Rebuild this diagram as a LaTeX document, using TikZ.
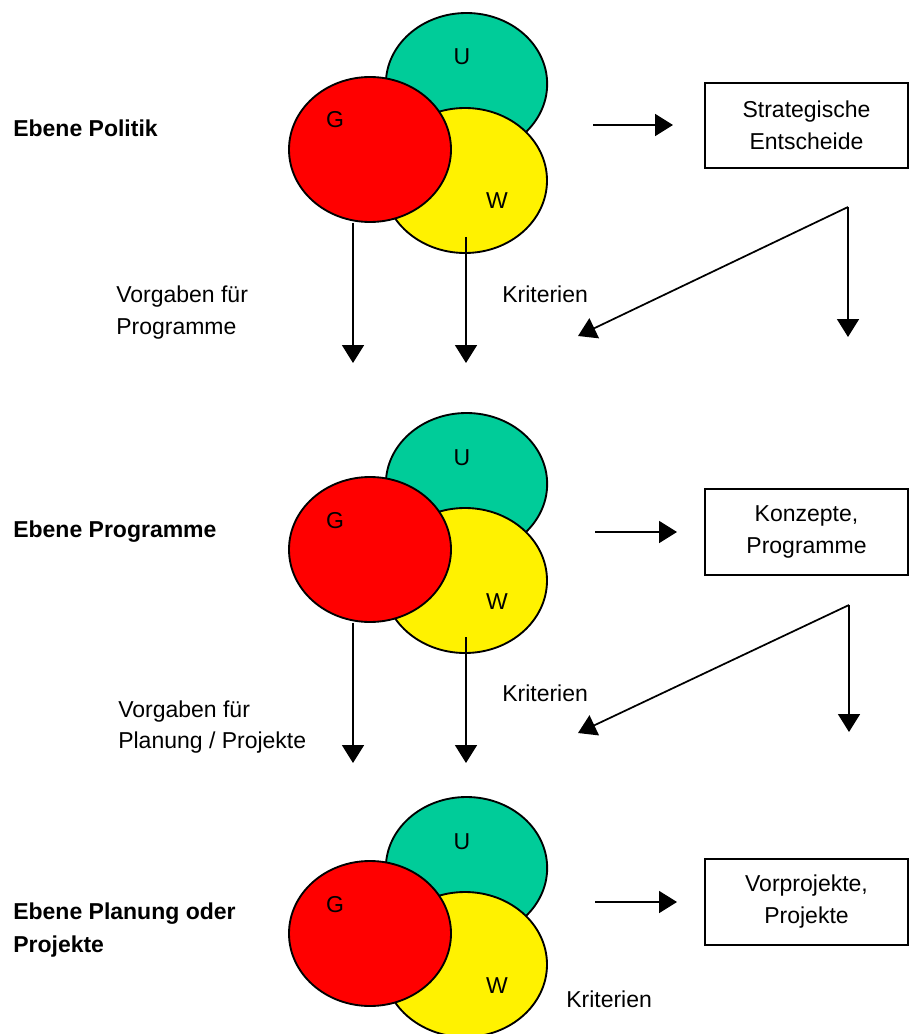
\documentclass[tikz,border=0pt]{standalone}
\usepackage{fontspec}
\setmainfont{Liberation Sans}
\usetikzlibrary{shapes.geometric,arrows.meta}
\definecolor{ugreen}{RGB}{0,204,153}
\tikzset{
  setell/.style={ellipse, draw=black, line width=1.4pt, inner sep=0pt},
  lbl/.style={font=\fontsize{17.25}{24}\selectfont, inner sep=0pt},
  blbl/.style={font=\fontsize{17.25}{24}\selectfont\bfseries, inner sep=0pt},
  conn/.style={line width=1.3pt, -{Triangle[length=13.5pt,width=16.5pt]}},
  resbox/.style={draw, line width=1.3pt, minimum width=152.25pt, minimum height=64pt,
    align=center, inner sep=0pt, font=\fontsize{17.25}{24}\selectfont},
}
\newcommand\venngroup[2]{%
  \begin{scope}[yshift=-#2*0.75pt]
    \node[setell, fill=ugreen, minimum width=121pt, minimum height=106.5pt] (U#1) at (466.5,84) {};
    \node[setell, fill=yellow, minimum width=123pt, minimum height=108.75pt] (W#1) at (465,180.5) {};
    \node[setell, fill=red, minimum width=121.5pt, minimum height=108.75pt] (G#1) at (370,149.5) {};
    \node[lbl, anchor=base] (u#1) at (462,65) {U};
    \node[lbl, anchor=base] (g#1) at (335,128) {G};
    \node[lbl, anchor=base] (w#1) at (497,209) {W};
  \end{scope}}
\begin{document}
\begin{tikzpicture}[x=0.75pt, y=-0.75pt]
\useasboundingbox (0,0) rectangle (910,1034);

% ---------- Ebene Politik ----------
\venngroup{1}{0}
\node[blbl, anchor=base west] (e1) at (13,137) {Ebene Politik};
\node[resbox] (S1) at (806.5,125.5) {Strategische\\Entscheide};
\coordinate (h1a) at (593,125);
\coordinate (h1b) at (673,125);
\draw[conn] (h1a) -- (h1b);
\coordinate (t1a) at (353,363);
\draw[conn] (G1.south -| t1a) -- (t1a);
\coordinate (s1b) at (466,237);
\coordinate (t1b) at (466,363);
\draw[conn] (s1b) -- (t1b);
\node[lbl, anchor=base west] (v1a) at (116,302) {Vorgaben für};
\node[lbl, anchor=base west] (v1b) at (116,334) {Programme};
\node[lbl, anchor=base west] (k1) at (502,302) {Kriterien};
\coordinate (br1) at (848,207);
\coordinate (br1d) at (848,337);
\coordinate (br1l) at (578,336);
\draw[conn] (br1) -- (br1d);
\draw[conn] (br1) -- (br1l);

% ---------- Ebene Programme ----------
\venngroup{2}{400}
\node[blbl, anchor=base west] (e2) at (13,537) {Ebene Programme};
\node[resbox] (S2) at (806.5,532) {Konzepte,\\Programme};
\coordinate (h2a) at (595,532);
\coordinate (h2b) at (677,532);
\draw[conn] (h2a) -- (h2b);
\coordinate (t2a) at (353,763);
\draw[conn] (G2.south -| t2a) -- (t2a);
\coordinate (s2b) at (466,637);
\coordinate (t2b) at (466,763);
\draw[conn] (s2b) -- (t2b);
\node[lbl, anchor=base west] (v2a) at (118,717) {Vorgaben für};
\node[lbl, anchor=base west] (v2b) at (118,748) {Planung / Projekte};
\node[lbl, anchor=base west] (k2) at (502,701) {Kriterien};
\coordinate (br2) at (849,605);
\coordinate (br2d) at (849,732);
\coordinate (br2l) at (578,733);
\draw[conn] (br2) -- (br2d);
\draw[conn] (br2) -- (br2l);

% ---------- Ebene Planung oder Projekte ----------
\venngroup{3}{784}
\node[blbl, anchor=base west] (e3a) at (13,919) {Ebene Planung oder};
\node[blbl, anchor=base west] (e3b) at (13,952) {Projekte};
\node[resbox] (S3) at (806.5,902) {Vorprojekte,\\Projekte};
\coordinate (h3a) at (595,902);
\coordinate (h3b) at (677,902);
\draw[conn] (h3a) -- (h3b);
\node[lbl, anchor=base west] (k3) at (566,1007) {Kriterien};
\end{tikzpicture}
\end{document}
